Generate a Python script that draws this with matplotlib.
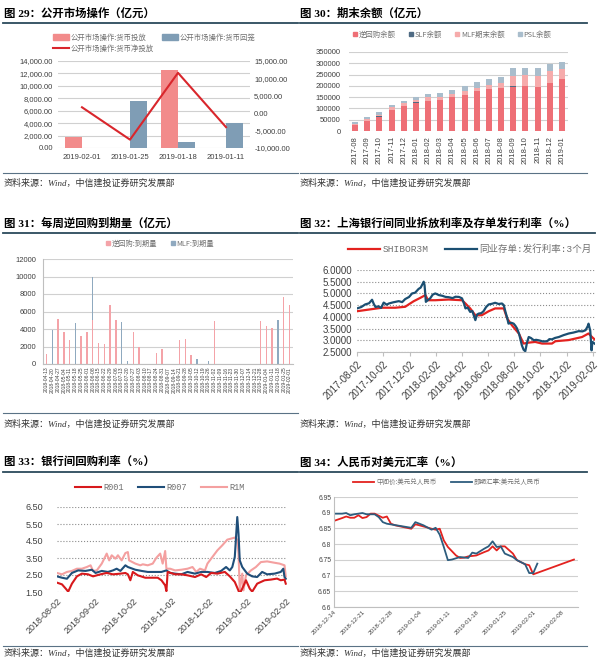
import matplotlib
matplotlib.use('Agg')
import matplotlib.pyplot as plt
import pandas as pd
import numpy as np
from matplotlib.lines import Line2D
from matplotlib.patches import Patch
from matplotlib.ticker import FuncFormatter, MultipleLocator

plt.rcParams['font.family'] = ['Liberation Sans', 'Noto Sans CJK SC', 'DejaVu Sans']
plt.rcParams['axes.unicode_minus'] = False

# ---- data: fig 29
dates29 = ['2019-02-01', '2019-01-25', '2019-01-18', '2019-01-11']
inject29 = [1700, 0, 12600, 0]
drain29 = [0, 7600, 1000, 4000]
net29 = [1700, -7600, 11600, -4000]

# ---- data: fig 30
months30 = ['2017-08', '2017-09', '2017-10', '2017-11', '2017-12', '2018-01', '2018-02', '2018-03', '2018-04',
            '2018-05', '2018-06', '2018-07', '2018-08', '2018-09', '2018-10', '2018-11', '2018-12', '2019-01']
rr30 = [27000, 46000, 64000, 93000, 111000, 126000, 132000, 138000, 150000,
        161000, 176000, 187000, 190000, 197000, 198000, 195000, 212000, 230000]
slf30 = [500, 500, 500, 500, 500, 500, 500, 500, 500, 500, 500, 500, 500, 500, 500, 500, 500, 500]
mlf30 = [4000, 6000, 8500, 11000, 11000, 13000, 16000, 14000, 13000,
         14000, 15000, 18000, 22000, 47000, 48000, 50000, 52000, 43000]
psl30 = [7000, 8300, 10000, 11000, 11000, 13000, 14500, 15000, 16000,
         25000, 23500, 24500, 26500, 32500, 31000, 32000, 32000, 32000]

# ---- data: fig 31
weeks31 = ['2018-04-13', '2018-04-20', '2018-04-27', '2018-05-04', '2018-05-11', '2018-05-18', '2018-05-25',
           '2018-06-01', '2018-06-08', '2018-06-15', '2018-06-22', '2018-06-29', '2018-07-06', '2018-07-13',
           '2018-07-20', '2018-07-27', '2018-08-03', '2018-08-10', '2018-08-17', '2018-08-24', '2018-08-31',
           '2018-09-07', '2018-09-14', '2018-09-21', '2018-09-28', '2018-10-05', '2018-10-12', '2018-10-19',
           '2018-10-26', '2018-11-02', '2018-11-09', '2018-11-16', '2018-11-23', '2018-11-30', '2018-12-07',
           '2018-12-14', '2018-12-21', '2018-12-28', '2019-01-04', '2019-01-11', '2019-01-18', '2019-01-25',
           '2019-02-01']
rr31 = [1200, 0, 5200, 3700, 2700, 0, 3200, 3700, 5000, 2400, 2300, 6700, 5000, 0, 0, 3700, 2000, 0, 0, 1300,
        1700, 0, 0, 2700, 2900, 1000, 0, 0, 0, 4900, 0, 0, 0, 0, 0, 0, 0, 4900, 4300, 4100, 0, 7700, 6800]
mlf31 = [0, 3900, 0, 0, 0, 4700, 0, 0, 5000, 0, 0, 0, 0, 4800, 400, 0, 0, 0, 0, 0,
         0, 0, 0, 0, 0, 0, 600, 0, 300, 0, 0, 0, 0, 0, 0, 0, 0, 0, 0, 0, 5000, 0, 0]

# ---- data: fig 32
shibor_dates = ['2017-08-02', '2017-08-29', '2017-09-29', '2017-10-30', '2017-11-22', '2017-11-30', '2017-12-12',
                '2017-12-27', '2018-01-08', '2018-01-14', '2018-01-31', '2018-03-03', '2018-04-03', '2018-04-11',
                '2018-04-22', '2018-05-04', '2018-05-19', '2018-06-04', '2018-06-19', '2018-07-09', '2018-07-17',
                '2018-07-28', '2018-08-13', '2018-08-24', '2018-09-05', '2018-09-20', '2018-10-06', '2018-10-29',
                '2018-11-06', '2018-12-07', '2019-01-07', '2019-01-22', '2019-01-30', '2019-02-05']
shibor_vals = [4.24, 4.31, 4.39, 4.39, 4.43, 4.53, 4.67, 4.81, 4.93, 4.71, 4.71, 4.74, 4.71, 4.57, 4.36, 4.07,
               4.07, 4.24, 4.36, 4.36, 3.93, 3.64, 3.29, 2.86, 2.90, 2.93, 2.86, 2.86, 2.96, 3.01, 3.14, 3.29,
               3.14, 3.04]
ncd_dates = ['2017-08-02', '2017-08-12', '2017-08-21', '2017-08-30', '2017-09-06', '2017-09-10', '2017-09-14',
             '2017-09-21', '2017-09-27', '2017-10-03', '2017-10-10', '2017-10-15', '2017-10-25', '2017-11-07',
             '2017-11-15', '2017-11-22', '2017-12-01', '2017-12-08', '2017-12-15', '2017-12-23', '2017-12-28',
             '2018-01-04', '2018-01-06', '2018-01-09', '2018-01-14', '2018-01-19', '2018-01-25', '2018-01-31',
             '2018-02-08', '2018-02-16', '2018-02-24', '2018-03-03', '2018-03-12', '2018-03-19', '2018-03-27',
             '2018-04-03', '2018-04-08', '2018-04-11', '2018-04-16', '2018-04-22', '2018-04-27', '2018-05-04',
             '2018-05-08', '2018-05-12', '2018-05-18', '2018-05-23', '2018-05-29', '2018-06-04', '2018-06-12',
             '2018-06-19', '2018-06-27', '2018-07-05', '2018-07-09', '2018-07-13', '2018-07-17', '2018-07-20',
             '2018-07-26', '2018-08-01', '2018-08-05', '2018-08-09', '2018-08-14', '2018-08-20', '2018-08-24',
             '2018-08-28', '2018-09-01', '2018-09-05', '2018-09-10', '2018-09-17', '2018-09-22', '2018-09-28',
             '2018-10-08', '2018-10-18', '2018-10-23', '2018-10-29', '2018-11-05', '2018-11-14', '2018-11-25',
             '2018-12-07', '2018-12-18', '2018-12-30', '2019-01-08', '2019-01-15', '2019-01-20', '2019-01-22',
             '2019-01-26', '2019-01-29', '2019-01-31', '2019-02-05']
ncd_vals = [4.36, 4.42, 4.53, 4.58, 4.73, 4.55, 4.42, 4.45, 4.38, 4.61, 4.52, 4.57, 4.62, 4.67,
            4.63, 4.76, 4.85, 5.00, 5.03, 5.19, 5.25, 5.50, 5.35, 4.64, 4.72, 4.79, 4.95, 5.00,
            4.93, 4.90, 4.85, 4.84, 4.80, 4.86, 4.85, 4.79, 4.55, 4.36, 4.40, 4.21, 4.25, 3.86,
            4.10, 4.14, 4.16, 4.24, 4.42, 4.53, 4.56, 4.60, 4.55, 4.57, 4.50, 4.21, 3.95, 3.71,
            3.75, 3.71, 3.62, 3.50, 3.25, 2.79, 2.60, 2.53, 2.90, 3.14, 3.10, 3.00, 3.02, 3.00,
            2.95, 2.96, 3.05, 3.04, 3.10, 3.14, 3.22, 3.29, 3.33, 3.39, 3.38, 3.43, 3.60, 3.71,
            3.40, 2.57, 2.93, 2.86]
ticks32 = ['2017-08-02', '2017-10-02', '2017-12-02', '2018-02-02', '2018-04-02', '2018-06-02',
           '2018-08-02', '2018-10-02', '2018-12-02', '2019-02-02']

# ---- data: fig 33
r001_dates = ['2018-08-02', '2018-08-06', '2018-08-09', '2018-08-11', '2018-08-14', '2018-08-18', '2018-08-22',
              '2018-08-27', '2018-08-31', '2018-09-06', '2018-09-11', '2018-09-16', '2018-09-22', '2018-09-26',
              '2018-09-28', '2018-09-30', '2018-10-02', '2018-10-06', '2018-10-12', '2018-10-17', '2018-10-22',
              '2018-10-25', '2018-10-28', '2018-10-29', '2018-10-30', '2018-11-05', '2018-11-10', '2018-11-15',
              '2018-11-21', '2018-11-26', '2018-11-30', '2018-12-04', '2018-12-09', '2018-12-15', '2018-12-19',
              '2018-12-23', '2018-12-25', '2018-12-27', '2018-12-29', '2019-01-01', '2019-01-04', '2019-01-06',
              '2019-01-10', '2019-01-16', '2019-01-21', '2019-01-26', '2019-01-29', '2019-02-01', '2019-02-02']
r001_vals = [2.05, 1.95, 1.70, 1.52, 1.99, 2.42, 2.58, 2.54, 2.42, 2.54, 2.62, 2.54, 2.58, 2.62, 2.54, 2.19,
             2.68, 2.48, 2.34, 2.34, 2.34, 2.19, 1.89, 1.55, 2.68, 2.54, 2.54, 2.48, 2.38, 2.54, 2.38, 2.62,
             2.58, 2.68, 2.42, 2.09, 1.75, 1.40, 1.70, 2.19, 1.70, 1.52, 1.99, 2.19, 2.23, 2.29, 2.19, 2.23, 1.99]
r007_dates = ['2018-08-02', '2018-08-06', '2018-08-10', '2018-08-14', '2018-08-19', '2018-08-25', '2018-08-30',
              '2018-09-02', '2018-09-07', '2018-09-12', '2018-09-16', '2018-09-19', '2018-09-22', '2018-09-26',
              '2018-09-28', '2018-10-04', '2018-10-09', '2018-10-14', '2018-10-20', '2018-10-25', '2018-10-29',
              '2018-11-01', '2018-11-05', '2018-11-10', '2018-11-15', '2018-11-21', '2018-11-26', '2018-12-01',
              '2018-12-07', '2018-12-12', '2018-12-16', '2018-12-19', '2018-12-21', '2018-12-23', '2018-12-25',
              '2018-12-26', '2018-12-27', '2018-12-29', '2019-01-02', '2019-01-06', '2019-01-10', '2019-01-14',
              '2019-01-18', '2019-01-24', '2019-01-29', '2019-01-31', '2019-02-01', '2019-02-02']
r007_vals = [2.42, 2.34, 2.28, 2.62, 2.77, 2.74, 2.81, 2.62, 2.74, 2.68, 2.77, 2.87, 2.74, 3.07, 2.97, 2.81,
             2.74, 2.68, 2.68, 2.68, 2.77, 2.62, 2.58, 2.54, 2.68, 2.58, 2.68, 2.68, 2.62, 2.74, 2.97, 2.77,
             2.97, 3.56, 5.91, 4.93, 3.36, 2.97, 2.58, 2.42, 2.38, 2.68, 2.54, 2.58, 2.68, 2.87, 2.38, 2.28]
r1m_dates = ['2018-08-02', '2018-08-06', '2018-08-10', '2018-08-14', '2018-08-18', '2018-08-22', '2018-08-26',
             '2018-08-29', '2018-08-31', '2018-09-03', '2018-09-07', '2018-09-11', '2018-09-13', '2018-09-15',
             '2018-09-18', '2018-09-20', '2018-09-23', '2018-09-26', '2018-09-28', '2018-09-29', '2018-10-04',
             '2018-10-08', '2018-10-10', '2018-10-14', '2018-10-18', '2018-10-21', '2018-10-24', '2018-10-26',
             '2018-10-28', '2018-10-29', '2018-11-01', '2018-11-05', '2018-11-10', '2018-11-15', '2018-11-19',
             '2018-11-22', '2018-11-25', '2018-11-29', '2018-12-01', '2018-12-05', '2018-12-09', '2018-12-13',
             '2018-12-17', '2018-12-20', '2018-12-23', '2018-12-25', '2018-12-26', '2018-12-27', '2018-12-29',
             '2018-12-30', '2019-01-01', '2019-01-05', '2019-01-09', '2019-01-13', '2019-01-18', '2019-01-24',
             '2019-01-28', '2019-02-01', '2019-02-02']
r1m_vals = [2.62, 2.54, 2.68, 2.74, 2.87, 2.87, 2.97, 3.07, 2.74, 2.77, 3.17, 3.76, 3.36, 3.66, 3.46, 3.66,
            3.36, 3.79, 3.85, 3.36, 3.17, 3.07, 3.13, 3.07, 3.17, 3.52, 3.76, 3.17, 3.91, 2.87, 2.87, 2.77,
            2.81, 2.87, 2.97, 2.68, 2.87, 2.77, 3.17, 3.56, 3.95, 4.25, 4.58, 4.64, 4.70, 4.58, 3.76, 1.60,
            2.58, 1.60, 2.48, 2.77, 2.97, 3.26, 3.30, 3.22, 3.17, 3.07, 2.42]
ticks33 = ['2018-08-02', '2018-09-02', '2018-10-02', '2018-11-02', '2018-12-02', '2019-01-02', '2019-02-02']

# ---- data: fig 34
mid_dates = ['2018-12-14', '2018-12-16', '2018-12-17', '2018-12-18', '2018-12-19', '2018-12-20', '2018-12-21',
             '2018-12-22', '2018-12-23', '2018-12-24', '2018-12-26', '2018-12-27', '2018-12-28', '2018-12-29',
             '2019-01-02', '2019-01-03', '2019-01-04', '2019-01-07', '2019-01-08', '2019-01-09', '2019-01-10',
             '2019-01-11', '2019-01-13', '2019-01-14', '2019-01-15', '2019-01-16', '2019-01-18', '2019-01-20',
             '2019-01-21', '2019-01-22', '2019-01-23', '2019-01-24', '2019-01-25', '2019-01-27', '2019-01-28',
             '2019-01-30', '2019-01-31', '2019-02-01', '2019-02-11']
mid_vals = [6.874, 6.883, 6.888, 6.884, 6.884, 6.892, 6.883, 6.886, 6.897, 6.897, 6.884, 6.888, 6.865, 6.860,
            6.849, 6.863, 6.860, 6.849, 6.846, 6.849, 6.812, 6.791, 6.764, 6.756, 6.757, 6.761, 6.764, 6.775,
            6.780, 6.793, 6.780, 6.793, 6.793, 6.770, 6.749, 6.736, 6.733, 6.704, 6.751]
spot_dates = ['2018-12-14', '2018-12-16', '2018-12-17', '2018-12-18', '2018-12-19', '2018-12-21', '2018-12-22',
              '2018-12-24', '2018-12-25', '2018-12-26', '2018-12-27', '2019-01-02', '2019-01-03', '2019-01-05',
              '2019-01-07', '2019-01-08', '2019-01-09', '2019-01-10', '2019-01-11', '2019-01-12', '2019-01-14',
              '2019-01-16', '2019-01-17', '2019-01-18', '2019-01-20', '2019-01-21', '2019-01-22', '2019-01-23',
              '2019-01-24', '2019-01-25', '2019-01-27', '2019-01-28', '2019-01-30', '2019-01-31', '2019-02-01',
              '2019-02-02']
spot_vals = [6.897, 6.897, 6.899, 6.892, 6.895, 6.899, 6.895, 6.895, 6.886, 6.870, 6.865, 6.852, 6.870, 6.860,
             6.846, 6.852, 6.830, 6.791, 6.749, 6.751, 6.759, 6.756, 6.773, 6.770, 6.786, 6.793, 6.809, 6.791,
             6.793, 6.770, 6.759, 6.749, 6.736, 6.708, 6.708, 6.738]
ticks34 = ['2018-12-14', '2018-12-21', '2018-12-28', '2019-01-04', '2019-01-11', '2019-01-18', '2019-01-25',
           '2019-02-01', '2019-02-08']

# ---- layout helpers (pixel coords of the 600x660 page)
W, H = 600, 660
fig = plt.figure(figsize=(6, 6.6), dpi=100)
fig.patch.set_facecolor('white')

def box(l, t, r, b):
    return [l / W, 1 - b / H, (r - l) / W, (b - t) / H]

def fx(x):
    return x / W

def fy(y):
    return 1 - y / H

SERIF_CJK = ['Liberation Serif', 'Noto Sans CJK SC']
MONO_CJK = ['Liberation Mono', 'Noto Sans CJK SC']
TXT = '#404040'
LEG = '#707070'

def title(x, y, s):
    fig.text(fx(x), fy(y), s, fontsize=8.2, fontweight='bold', family=SERIF_CJK, va='center', ha='left')

def rule(y, x0, x1, color='#2B4A5C', lw=1.3):
    fig.add_artist(Line2D([fx(x0), fx(x1)], [fy(y), fy(y)], color=color, lw=lw, transform=fig.transFigure))

def source(x, y):
    fig.text(fx(x), fy(y), '资料来源：Wind，中信建投证券研究发展部', fontsize=6.5, style='italic',
             color='#333333', family=SERIF_CJK, va='center', ha='left')

def clean(ax, ls='-', gc='#D0D0D0', fs=5.5):
    for s in ax.spines.values():
        s.set_visible(False)
    ax.grid(axis='y', linestyle=ls, color=gc, lw=0.8)
    ax.set_axisbelow(True)
    ax.tick_params(length=0, colors=TXT, labelsize=fs)

# ================= 图 29
title(4, 13, '图 29：公开市场操作（亿元）')
rule(22.5, 3, 298)
ax29 = fig.add_axes(box(58, 61, 250, 148))
x29 = np.arange(len(dates29))
ax29.bar(x29 - 0.18, inject29, 0.35, color='#F28B8B')
ax29.bar(x29 + 0.18, drain29, 0.35, color='#7F9DB5')
ax29.set_xlim(-0.5, 3.5)
ax29.set_ylim(0, 14000)
ax29.yaxis.set_major_locator(MultipleLocator(2000))
ax29.yaxis.set_major_formatter(FuncFormatter(lambda v, p: f'{v:,.2f}'))
ax29.set_xticks(x29)
ax29.set_xticklabels(dates29)
clean(ax29)
ax29.tick_params(axis='x', pad=4)
ax29r = ax29.twinx()
ax29r.plot(x29, net29, color='#D9262C', lw=1.5)
ax29r.set_ylim(-10000, 15000)
ax29r.yaxis.set_major_locator(MultipleLocator(5000))
ax29r.yaxis.set_major_formatter(FuncFormatter(lambda v, p: f'{v:,.2f}'))
for s in ax29r.spines.values():
    s.set_visible(False)
ax29r.tick_params(length=0, colors=TXT, labelsize=5.5, pad=3)
h29 = [Patch(color='#F28B8B'), Line2D([], [], color='#D9262C', lw=1.5), Patch(color='#7F9DB5')]
l29 = ['公开市场操作:货币投放', '公开市场操作:货币净投放', '公开市场操作:货币回笼']
fig.legend(h29, l29, ncol=2, loc='upper left', bbox_to_anchor=(fx(46), fy(27)), frameon=False,
           prop={'family': ['Noto Sans CJK SC'], 'size': 5.3}, handlelength=2.2, handleheight=0.7,
           handletextpad=0.3, columnspacing=1.0, labelspacing=0.45, labelcolor=LEG)
rule(172.5, 3, 298, color='#5A7285', lw=0.8)
source(4, 183)

# ================= 图 30
title(300, 13, '图 30：期末余额（亿元）')
rule(22.5, 300, 587)
ax30 = fig.add_axes(box(349, 52, 568, 131))
x30 = np.arange(len(months30))
b1 = np.array(rr30)
b2 = b1 + np.array(slf30)
b3 = b2 + np.array(mlf30)
ax30.bar(x30, rr30, 0.5, color='#EE6F76')
ax30.bar(x30, slf30, 0.5, bottom=b1, color='#4F6B84')
ax30.bar(x30, mlf30, 0.5, bottom=b2, color='#F6ABAB')
ax30.bar(x30, psl30, 0.5, bottom=b3, color='#A9BDCC')
ax30.set_xlim(-0.5, len(months30) - 0.5)
ax30.set_ylim(0, 350000)
ax30.yaxis.set_major_locator(MultipleLocator(50000))
ax30.yaxis.set_major_formatter(FuncFormatter(lambda v, p: f'{v:.0f}'))
ax30.set_xticks(x30)
ax30.set_xticklabels(months30, rotation=90)
clean(ax30)
ax30.tick_params(axis='y', pad=6)
h30 = [Line2D([], [], marker='s', ls='none', ms=2.8, color=c) for c in ['#EE6F76', '#4F6B84', '#F6ABAB', '#A9BDCC']]
fig.legend(h30, ['逆回购余额', 'SLF余额', 'MLF期末余额', 'PSL余额'], ncol=4, loc='center',
           bbox_to_anchor=(fx(452), fy(35)), frameon=False, prop={'family': ['Noto Sans CJK SC'], 'size': 5.3},
           handlelength=0.6, handletextpad=0.2, columnspacing=1.8, labelcolor=LEG)
rule(172.5, 300, 587, color='#5A7285', lw=0.8)
source(300, 183)

# ================= 图 31
title(4, 223, '图 31：每周逆回购到期量（亿元）')
rule(232.5, 3, 298)
ax31 = fig.add_axes(box(43, 259, 293, 364))
x31 = np.arange(len(weeks31))
ax31.bar(x31, rr31, 0.25, color='#F4A3A8')
ax31.bar(x31, mlf31, 0.25, bottom=rr31, color='#8FA9BF')
ax31.set_xlim(-0.6, len(weeks31) - 0.4)
ax31.set_ylim(0, 12000)
ax31.yaxis.set_major_locator(MultipleLocator(2000))
ax31.set_xticks(x31)
ax31.set_xticklabels(weeks31, rotation=90)
clean(ax31)
ax31.spines['left'].set_visible(True)
ax31.spines['left'].set_color('#BFBFBF')
ax31.spines['bottom'].set_visible(True)
ax31.spines['bottom'].set_color('#BFBFBF')
ax31.tick_params(axis='x', labelsize=3.6, pad=2)
ax31.tick_params(axis='y', pad=5)
h31 = [Line2D([], [], marker='s', ls='none', ms=2.6, color=c) for c in ['#F4A3A8', '#8FA9BF']]
fig.legend(h31, ['逆回购:到期量', 'MLF:到期量'], ncol=2, loc='center', bbox_to_anchor=(fx(160), fy(244)),
           frameon=False, prop={'family': ['Noto Sans CJK SC'], 'size': 5.2}, handlelength=0.6,
           handletextpad=0.2, columnspacing=1.8, labelcolor=LEG)
rule(413, 3, 298, color='#5A7285', lw=0.8)
source(4, 424)

# ================= 图 32
title(300, 223, '图 32：上海银行间同业拆放利率及存单发行利率（%）')
rule(232.5, 300, 595)
ax32 = fig.add_axes(box(357, 270, 595, 352))
ax32.plot(pd.to_datetime(shibor_dates), shibor_vals, color='#E3221F', lw=1.6)
ax32.plot(pd.to_datetime(ncd_dates), ncd_vals, color='#1B4F72', lw=1.6)
ax32.set_xlim(pd.Timestamp('2017-08-02'), pd.Timestamp('2019-02-06'))
ax32.set_ylim(2.5, 6.0)
ax32.yaxis.set_major_locator(MultipleLocator(0.5))
ax32.yaxis.set_major_formatter(FuncFormatter(lambda v, p: f'{v:.4f}'))
ax32.set_xticks(pd.to_datetime(ticks32))
ax32.set_xticklabels(ticks32, rotation=45, ha='right', rotation_mode='anchor')
clean(ax32, ls=':', gc='#8C8C8C', fs=7)
ax32.spines['bottom'].set_visible(True)
ax32.spines['bottom'].set_color('#BFBFBF')
ax32.tick_params(axis='x', length=3, color='#BFBFBF', pad=2)
fig.legend([Line2D([], [], color='#E3221F', lw=1.6), Line2D([], [], color='#1B4F72', lw=1.6)],
           ['SHIBOR3M', '同业存单:发行利率:3个月'], ncol=2, loc='center', bbox_to_anchor=(fx(470), fy(249)),
           frameon=False, prop={'family': MONO_CJK, 'size': 6.8}, handlelength=3.3, handletextpad=0.3,
           columnspacing=1.8, labelcolor=LEG)
source(300, 424)

# ================= 图 33
title(4, 462, '图 33：银行间回购利率（%）')
rule(471.5, 3, 298)
ax33 = fig.add_axes(box(57, 507, 287, 592))
ax33.plot(pd.to_datetime(r1m_dates), r1m_vals, color='#F4A0A0', lw=1.5)
ax33.plot(pd.to_datetime(r007_dates), r007_vals, color='#1F4E79', lw=1.5)
ax33.plot(pd.to_datetime(r001_dates), r001_vals, color='#D7191C', lw=1.5)
ax33.set_xlim(pd.Timestamp('2018-08-02'), pd.Timestamp('2019-02-03'))
ax33.set_ylim(1.5, 6.5)
ax33.set_yticks([1.5, 2.5, 3.5, 4.5, 5.5, 6.5])
ax33.yaxis.set_major_formatter(FuncFormatter(lambda v, p: f'{v:.2f}'))
ax33.set_xticks(pd.to_datetime(ticks33))
ax33.set_xticklabels(ticks33, rotation=45, ha='right', rotation_mode='anchor')
clean(ax33, ls=':', gc='#8C8C8C', fs=6.5)
ax33.tick_params(axis='y', pad=10)
ax33.tick_params(axis='x', pad=3)
fig.legend([Line2D([], [], color=c, lw=1.5) for c in ['#D7191C', '#1F4E79', '#F4A0A0']],
           ['R001', 'R007', 'R1M'], ncol=3, loc='center', bbox_to_anchor=(fx(160), fy(488)),
           frameon=False, prop={'family': MONO_CJK, 'size': 6.2}, handlelength=3.0, handletextpad=0.3,
           columnspacing=1.6, labelcolor=LEG)
rule(646, 3, 298, color='#5A7285', lw=0.8)
source(4, 653)

# ================= 图 34
title(300, 462, '图 34：人民币对美元汇率（%）')
rule(471.5, 300, 587)
ax34 = fig.add_axes(box(334, 497, 578, 607))
ax34.plot(pd.to_datetime(mid_dates), mid_vals, color='#E3221F', lw=1.3)
ax34.plot(pd.to_datetime(spot_dates), spot_vals, color='#2E5D7E', lw=1.3)
ax34.set_xlim(pd.Timestamp('2018-12-14'), pd.Timestamp('2019-02-12'))
ax34.set_ylim(6.6, 6.95)
ax34.set_yticks([6.6, 6.65, 6.7, 6.75, 6.8, 6.85, 6.9, 6.95])
ax34.yaxis.set_major_formatter(FuncFormatter(lambda v, p: f'{v:.2f}'.rstrip('0')))
ax34.set_xticks(pd.to_datetime(ticks34))
ax34.set_xticklabels(ticks34, rotation=45, ha='right', rotation_mode='anchor')
clean(ax34, gc='#D0D0D0', fs=4.8)
for s in ['left', 'bottom']:
    ax34.spines[s].set_visible(True)
    ax34.spines[s].set_color('#BFBFBF')
ax34.tick_params(axis='y', pad=2)
ax34.tick_params(axis='x', labelsize=4.5, pad=2)
fig.legend([Line2D([], [], color='#E3221F', lw=1.3), Line2D([], [], color='#2E5D7E', lw=1.3)],
           ['中间价:美元兑人民币', '即期汇率:美元兑人民币'], ncol=2, loc='center', bbox_to_anchor=(fx(447), fy(482)),
           frameon=False, prop={'family': ['Noto Sans CJK SC'], 'size': 4.7}, handlelength=3.2,
           handletextpad=0.3, columnspacing=2.2, labelcolor=LEG)
rule(646, 300, 587, color='#5A7285', lw=0.8)
source(300, 653)

fig.savefig('out.png', dpi=100, facecolor='white')
